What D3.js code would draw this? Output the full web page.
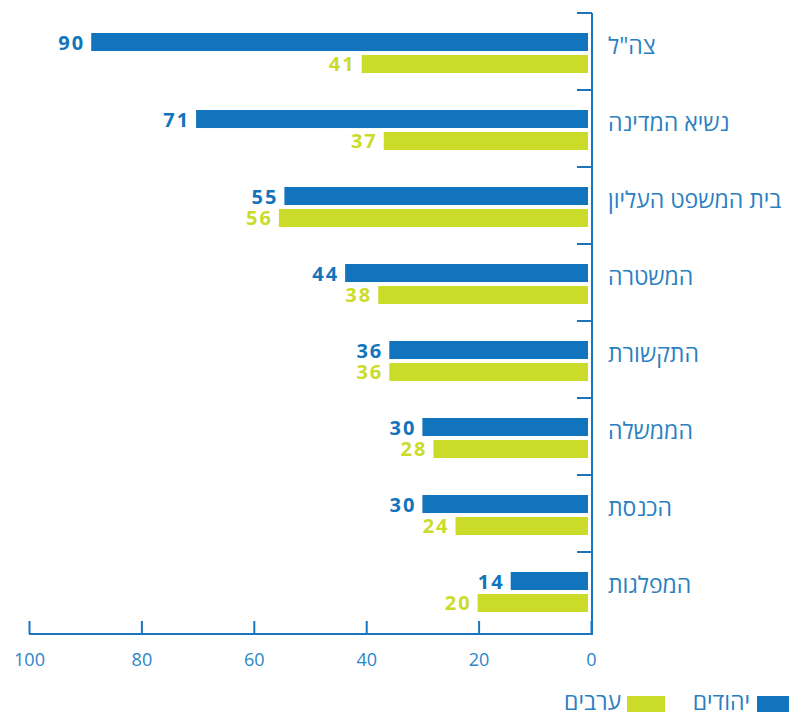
<!DOCTYPE html>
<html>
<head>
<meta charset="utf-8">
<script src="https://cdn.jsdelivr.net/npm/d3@7"></script>
<style>
  body { margin: 0; background: #fff; }
  svg { display: block; font-family: 'Open Sans', 'DejaVu Sans', sans-serif; }
</style>
</head>
<body>
<script>
// data
let categories = ['צה"ל', 'נשיא המדינה', 'בית המשפט העליון', 'המשטרה', 'התקשורת', 'הממשלה', 'הכנסת', 'המפלגות']
let jews = [90, 71, 55, 44, 36, 30, 30, 14]
let arabs = [41, 37, 56, 38, 36, 28, 24, 20]
let seriesNames = ['יהודים', 'ערבים']
let ticks = [0, 20, 40, 60, 80, 100]

let width = 789
let height = 712
let blue = '#1174bc'
let green = '#cbdb2a'
let axisColor = '#1a75bc'
let labelColor = '#2a7fc1'

let svg = d3.select('body')
    .append('svg')
    .attr('width', width)
    .attr('height', height)

// scales
let xScale = d3.scaleLinear().domain([0, 100]).range([591, 29])
let barScale = d3.scaleLinear().domain([0, 100]).range([588, 36])
let yScale = d3.scaleBand().domain(categories).range([13, 629])
let innerScale = d3.scaleBand().domain(['jews', 'arabs']).range([20, 60]).paddingInner(0.18)

let rows = categories.map((c, i) => ({ cat: c, jews: jews[i], arabs: arabs[i] }))

let groups = svg.selectAll('.row')
    .data(rows)
    .enter()
    .append('g')
    .attr('class', 'row')
    .attr('transform', d => 'translate(0,' + yScale(d.cat) + ')')

let series = [
    { key: 'jews', color: blue },
    { key: 'arabs', color: green }
]

series.forEach(s => {
    groups.append('rect')
        .attr('x', d => barScale(d[s.key]))
        .attr('y', innerScale(s.key))
        .attr('width', d => barScale(0) - barScale(d[s.key]))
        .attr('height', innerScale.bandwidth())
        .attr('fill', s.color)

    groups.append('text')
        .attr('x', d => barScale(d[s.key]) - 6)
        .attr('y', innerScale(s.key) + innerScale.bandwidth() / 2)
        .attr('text-anchor', 'end')
        .attr('dominant-baseline', 'central')
        .attr('font-size', 20)
        .attr('font-weight', 'bold')
        .attr('letter-spacing', 2)
        .attr('fill', s.color)
        .text(d => d[s.key])
})

// category labels
groups.append('text')
    .attr('x', 608)
    .attr('y', yScale.bandwidth() / 2 - 7)
    .attr('dominant-baseline', 'central')
    .attr('font-size', 23)
    .attr('fill', labelColor)
    .text(d => d.cat)

// y axis
let yG = svg.append('g')
    .attr('transform', 'translate(592,0)')
yG.append('line')
    .attr('y1', 13).attr('y2', 635)
    .attr('stroke', axisColor).attr('stroke-width', 2)
yG.selectAll('.sep')
    .data(categories)
    .enter()
    .append('line')
    .attr('class', 'sep')
    .attr('x1', -15).attr('x2', 0)
    .attr('y1', d => yScale(d)).attr('y2', d => yScale(d))
    .attr('stroke', axisColor).attr('stroke-width', 2)

// x axis
let xAxis = d3.axisTop(xScale).tickValues(ticks).tickSize(13).tickFormat(d3.format('d'))
let xG = svg.append('g')
    .attr('transform', 'translate(0,634)')
    .call(xAxis)
xG.select('.domain')
    .attr('d', 'M' + xScale(100) + ',0H' + xScale(0))
    .attr('stroke', axisColor).attr('stroke-width', 2)
xG.selectAll('.tick line').attr('stroke', axisColor).attr('stroke-width', 2)
xG.selectAll('.tick text')
    .attr('y', 25)
    .attr('dominant-baseline', 'central')
    .attr('font-size', 18)
    .attr('font-family', "'Open Sans', sans-serif")
    .attr('fill', '#2a86c8')

// legend
let legendItems = [
    { name: seriesNames[0], color: blue, rx: 757, w: 32, tx: 750 },
    { name: seriesNames[1], color: green, rx: 627, w: 38, tx: 621 }
]
let legend = svg.append('g').attr('class', 'legend')
legendItems.forEach(l => {
    legend.append('rect')
        .attr('x', l.rx).attr('y', 696)
        .attr('width', l.w).attr('height', 16)
        .attr('fill', l.color)
    legend.append('text')
        .attr('x', l.tx).attr('y', 701)
        .attr('text-anchor', 'end')
        .attr('dominant-baseline', 'central')
        .attr('font-size', 23)
        .attr('fill', labelColor)
        .text(l.name)
})
</script>
</body>
</html>
